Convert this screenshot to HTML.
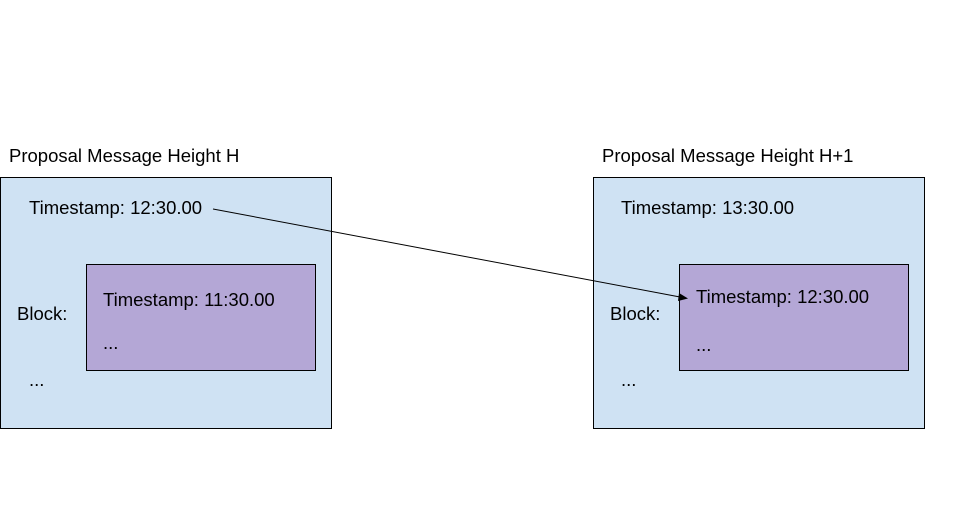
<!DOCTYPE html>
<html><head><meta charset="utf-8"><style>
body{margin:0;background:#fff;}
svg{display:block;font-family:"Liberation Sans",sans-serif;}
</style></head><body>
<svg width="972" height="528" viewBox="0 0 972 528">
<rect width="972" height="528" fill="#fff"/>
<g font-size="18.5" fill="#000">
<text x="9" y="162">Proposal Message Height H</text>
<rect x="0.5" y="177.5" width="331" height="251" fill="#cfe2f3" stroke="#000"/>
<text x="29" y="214">Timestamp: 12:30.00</text>
<rect x="86.5" y="264.5" width="229" height="106" fill="#b4a7d6" stroke="#000"/>
<text x="103" y="306">Timestamp: 11:30.00</text>
<text x="103" y="349">...</text>
<text x="17" y="320">Block:</text>
<text x="29" y="386">...</text>

<text x="602" y="162">Proposal Message Height H+1</text>
<rect x="593.5" y="177.5" width="331" height="251" fill="#cfe2f3" stroke="#000"/>
<text x="621" y="214">Timestamp: 13:30.00</text>
<rect x="679.5" y="264.5" width="229" height="106" fill="#b4a7d6" stroke="#000"/>
<text x="696" y="303">Timestamp: 12:30.00</text>
<text x="696" y="351">...</text>
<text x="610" y="320">Block:</text>
<text x="621" y="386">...</text>
</g>
<line x1="213" y1="209" x2="680" y2="297" stroke="#000" stroke-width="1"/>
<polygon points="688,298.5 679,293 678,301" fill="#000"/>
</svg>
</body></html>
